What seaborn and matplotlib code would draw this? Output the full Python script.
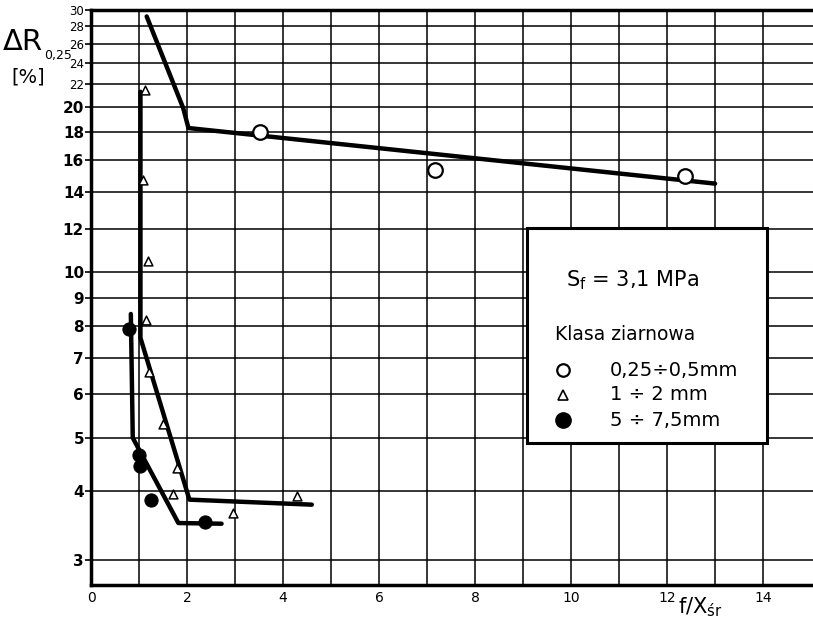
import matplotlib
matplotlib.use("Agg")
import matplotlib.pyplot as plt
import numpy as np
import pandas as pd
import seaborn as sns
from matplotlib.patches import Rectangle

# ---- data ----
fine_x = [3.52, 7.17, 12.37]
fine_y = [18.0, 15.35, 15.0]
fine_fit_x = [1.16, 1.92, 2.03, 13.0]
fine_fit_y = [29.2, 19.9, 18.3, 14.5]

mid_x = [1.125, 1.08, 1.19, 1.15, 1.21, 1.5, 1.8, 1.7, 2.95, 4.3]
mid_y = [21.5, 14.7, 10.5, 8.2, 6.6, 5.3, 4.4, 3.95, 3.65, 3.92]
mid_fit_x = [1.03, 1.03, 2.05, 4.6]
mid_fit_y = [21.3, 7.6, 3.86, 3.78]

coarse_x = [0.80, 1.0, 1.02, 1.26, 2.37]
coarse_y = [7.9, 4.65, 4.45, 3.85, 3.52]
coarse_fit_x = [0.83, 0.87, 1.82, 2.72]
coarse_fit_y = [8.4, 5.0, 3.5, 3.49]

y_ticks = [3, 4, 5, 6, 7, 8, 9, 10, 12, 14, 16, 18, 20, 22, 24, 26, 28, 30]
x_grid = list(range(0, 15))
x_labels = [0, 2, 4, 6, 8, 10, 12, 14]

legend_title = "Klasa ziarnowa"
legend_labels = ["0,25÷0,5mm", "1 ÷ 2 mm", "5 ÷ 7,5mm"]
condition = "S$_{\\mathrm{f}}$ = 3,1 MPa"

sns.set_style("white")
plt.rcParams['font.family'] = ['DejaVu Sans']
plt.rcParams['text.color'] = 'black'
plt.rcParams['xtick.color'] = 'black'
plt.rcParams['ytick.color'] = 'black'
plt.rcParams['xtick.labelcolor'] = 'black'
plt.rcParams['ytick.labelcolor'] = 'black'

W, H = 813, 619
fig = plt.figure(figsize=(W / 100, H / 100), dpi=100)
ax = fig.add_axes([91 / W, 1 - 585 / H, 722 / W, 575 / H])
ax.set_yscale("log")
ax.set_xlim(0, 15.04)
ax.set_ylim(2.7, 30)

# grid
for gx in x_grid:
    ax.axvline(gx, color="black", lw=1.1, zorder=1)
for gy in y_ticks:
    ax.axhline(gy, color="black", lw=1.1, zorder=1)

# fitted lines
def fit(xs, ys):
    return pd.DataFrame({"x": xs, "y": ys})

for xs, ys in [(fine_fit_x, fine_fit_y), (mid_fit_x, mid_fit_y), (coarse_fit_x, coarse_fit_y)]:
    sns.lineplot(data=fit(xs, ys), x="x", y="y", sort=False, estimator=None,
                 color="black", lw=3.2, ax=ax, zorder=3)

# points
sns.scatterplot(x=fine_x, y=fine_y, ax=ax, marker="o", s=110, facecolor="white",
                edgecolor="black", linewidth=1.6, zorder=4)
sns.scatterplot(x=mid_x, y=mid_y, ax=ax, marker="^", s=40, facecolor="white",
                edgecolor="black", linewidth=1.1, zorder=4)
sns.scatterplot(x=coarse_x, y=coarse_y, ax=ax, marker="o", s=90, color="black",
                edgecolor="black", zorder=4)

# ticks
ax.xaxis.set_major_locator(matplotlib.ticker.FixedLocator(x_labels))
ax.set_xticklabels([str(v) for v in x_labels], fontsize=10)
ax.yaxis.set_major_locator(matplotlib.ticker.FixedLocator(y_ticks))
ax.yaxis.set_minor_locator(matplotlib.ticker.NullLocator())
ax.set_yticklabels([str(v) for v in y_ticks], fontsize=11, fontweight="bold")
for lbl, v in zip(ax.get_yticklabels(), y_ticks):
    if v >= 22:
        lbl.set_fontsize(8.5)
        lbl.set_fontweight("normal")
ax.tick_params(axis="y", length=4, width=1.2, pad=1, left=True)
ax.tick_params(axis="x", length=0, pad=4)
ax.set_xlabel("")
ax.set_ylabel("")

for side in ["left", "bottom", "top"]:
    ax.spines[side].set_linewidth(2.5)
    ax.spines[side].set_color("black")
ax.spines["right"].set_visible(False)

# axis titles
def ftxt(px, py, s, **kw):
    fig.text(px / W, 1 - py / H, s, **kw)

ftxt(3, 42, "ΔR", fontsize=21, va="center", ha="left")
ftxt(44, 55, "0,25", fontsize=9, va="center", ha="left")
ftxt(11, 77, "[%]", fontsize=14, va="center", ha="left")
ftxt(678, 607, "f/X$_{\\mathrm{śr}}$", fontsize=15, va="center", ha="left")

# legend box
ax.add_patch(Rectangle((436 / 722, (585 - 443) / 575), 240 / 722, 215 / 575,
                       transform=ax.transAxes, facecolor="white", edgecolor="black",
                       lw=2.2, zorder=5))
ftxt(566, 280, condition, fontsize=15, va="center", ha="left", zorder=6)
ftxt(555, 334, legend_title, fontsize=13.5, va="center", ha="left", zorder=6)
rows = [370, 395, 420]
styles = [dict(marker="o", ms=9, mfc="white", mec="black", mew=1.6),
          dict(marker="^", ms=7, mfc="white", mec="black", mew=1.2),
          dict(marker="o", ms=11, mfc="black", mec="black")]
for ry, lab, st in zip(rows, legend_labels, styles):
    ax.plot([563 / W], [1 - ry / H], transform=fig.transFigure, ls="none",
            clip_on=False, zorder=6, **st)
    ftxt(610, ry, lab, fontsize=14, va="center", ha="left", zorder=6)

fig.savefig("out.png", dpi=100)
